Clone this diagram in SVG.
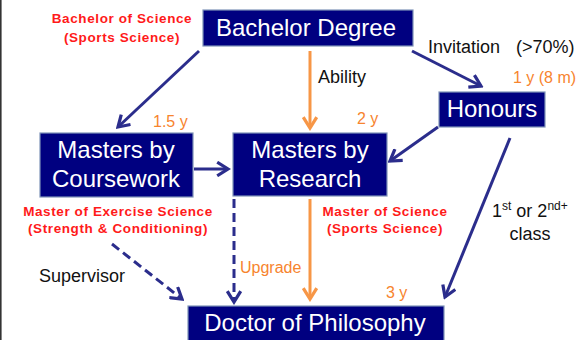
<svg xmlns="http://www.w3.org/2000/svg" width="587" height="340" viewBox="0 0 587 340">
  <style>
    .box { fill: #000080; stroke: #7f93b8; stroke-width: 1.2; }
    .bt { font-family: "Liberation Sans", Arial, sans-serif; fill: #ffffff; font-size: 24px; text-anchor: middle; }
    .red { font-family: "Liberation Sans", Arial, sans-serif; fill: #ff1a1a; font-size: 13.5px; font-weight: bold; text-anchor: middle; letter-spacing: 0.6px; }
    .org { font-family: "Liberation Sans", Arial, sans-serif; fill: #f7842e; font-size: 16px; }
    .blk { font-family: "Liberation Sans", Arial, sans-serif; fill: #111111; font-size: 18px; }
    .nv { fill: none; stroke: #2b2d8c; stroke-width: 3; }
    .nvd { fill: none; stroke: #2b2d8c; stroke-width: 3; stroke-dasharray: 9 5; }
    .or { fill: none; stroke: #f79646; stroke-width: 3; }
  </style>
  <defs>
    <marker id="ahN" viewBox="0 0 12 12" refX="10" refY="6" markerWidth="5.4" markerHeight="5.4" markerUnits="strokeWidth" orient="auto">
      <polyline points="2,1 10,6 2,11" fill="none" stroke="#2b2d8c" stroke-width="2.4"/>
    </marker>
    <marker id="ahO" viewBox="0 0 12 12" refX="10" refY="6" markerWidth="5.4" markerHeight="5.4" markerUnits="strokeWidth" orient="auto">
      <polyline points="2,1 10,6 2,11" fill="none" stroke="#f79646" stroke-width="2.4"/>
    </marker>
  </defs>

  <rect x="0" y="0" width="587" height="340" fill="#ffffff"/>
  <line x1="0.8" y1="0" x2="0.8" y2="340" stroke="#333333" stroke-width="1.6"/>

  <!-- connectors -->
  <g id="connectors">
    <line class="nv" x1="199" y1="51" x2="118" y2="127" marker-end="url(#ahN)"/>
    <line class="or" x1="310" y1="51" x2="310" y2="128" marker-end="url(#ahO)"/>
    <line class="nv" x1="412" y1="51" x2="481" y2="86" marker-end="url(#ahN)"/>
    <line class="nv" x1="438" y1="127" x2="390" y2="161" marker-end="url(#ahN)"/>
    <line class="nv" x1="194" y1="169" x2="228" y2="169" marker-end="url(#ahN)"/>
    <line class="nv" x1="510" y1="138" x2="445" y2="297" marker-end="url(#ahN)"/>
    <line class="or" x1="310" y1="199" x2="310" y2="299" marker-end="url(#ahO)"/>
    <line class="nvd" x1="234" y1="199" x2="234" y2="302" marker-end="url(#ahN)"/>
    <line class="nvd" x1="112" y1="244" x2="182" y2="299" marker-end="url(#ahN)"/>
  </g>

  <!-- nodes -->
  <g id="bachelor">
    <rect class="box" x="203" y="10" width="210" height="36"/>
    <text class="bt" x="306" y="36">Bachelor Degree</text>
  </g>
  <g id="honours">
    <rect class="box" x="439" y="92" width="106" height="35"/>
    <text class="bt" x="492" y="117">Honours</text>
  </g>
  <g id="coursework">
    <rect class="box" x="40" y="133" width="153" height="64"/>
    <text class="bt" x="116" y="158">Masters by</text>
    <text class="bt" x="116" y="187">Coursework</text>
  </g>
  <g id="research">
    <rect class="box" x="233" y="133" width="154" height="63"/>
    <text class="bt" x="310" y="158">Masters by</text>
    <text class="bt" x="310" y="187">Research</text>
  </g>
  <g id="phd">
    <rect class="box" x="188" y="306" width="256" height="40"/>
    <text class="bt" x="315" y="331">Doctor of Philosophy</text>
  </g>

  <!-- labels -->
  <g id="labels">
    <text class="red" x="122" y="23">Bachelor of Science</text>
    <text class="red" x="122" y="42">(Sports Science)</text>
    <text class="red" x="118" y="216">Master of Exercise Science</text>
    <text class="red" x="118" y="233">(Strength &amp; Conditioning)</text>
    <text class="red" x="385" y="216">Master of Science</text>
    <text class="red" x="385" y="233">(Sports Science)</text>

    <text class="org" x="153" y="127">1.5 y</text>
    <text class="org" x="357" y="124">2 y</text>
    <text class="org" x="513" y="83">1 y (8 m)</text>
    <text class="org" x="386" y="298">3 y</text>
    <text class="org" x="240" y="273">Upgrade</text>

    <text class="blk" x="428" y="53">Invitation</text>
    <text class="blk" x="516" y="53">(&gt;70%)</text>
    <text class="blk" x="318" y="83">Ability</text>
    <text class="blk" x="39" y="282">Supervisor</text>
    <text class="blk" x="492" y="217">1<tspan dy="-7" font-size="12">st</tspan><tspan dy="7"> or 2</tspan><tspan dy="-7" font-size="12">nd+</tspan></text>
    <text class="blk" x="530" y="240" text-anchor="middle">class</text>
  </g>
</svg>
